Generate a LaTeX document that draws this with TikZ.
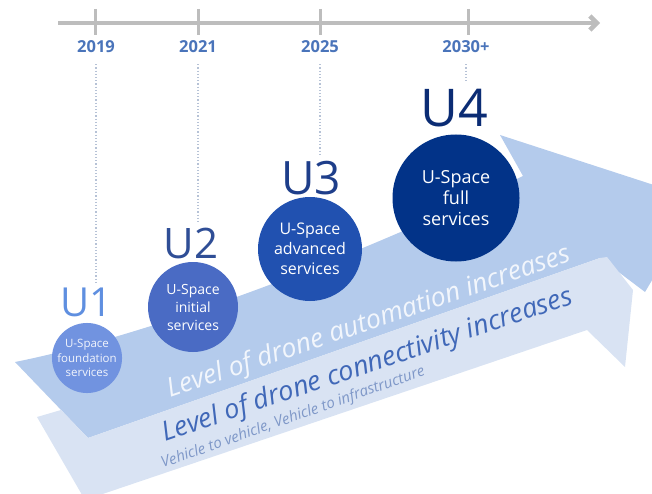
\documentclass[tikz,border=0pt]{standalone}
\usepackage{fontspec}
\setmainfont{Open Sans}
\usetikzlibrary{arrows.meta}
\definecolor{arrA}{HTML}{B4CBEC}
\definecolor{arrB}{HTML}{D9E3F3}
\definecolor{cA}{HTML}{7193E0}
\definecolor{cB}{HTML}{4A6BC4}
\definecolor{cC}{HTML}{2151B0}
\definecolor{cD}{HTML}{023388}
\definecolor{lA}{HTML}{5F8FE0}
\definecolor{lB}{HTML}{2F4E96}
\definecolor{lC}{HTML}{1E3E8A}
\definecolor{lD}{HTML}{0B2C74}
\definecolor{tlc}{HTML}{BDBDBD}
\definecolor{yrc}{HTML}{4A74BA}
\definecolor{dotc}{HTML}{B6C2D6}
\definecolor{autotxt}{HTML}{F2F6FC}
\definecolor{contxt}{HTML}{4068B8}
\definecolor{smalltxt}{HTML}{7F98C8}
\begin{document}
\begin{tikzpicture}[x=1pt,y=-1pt,
  ubub/.style={circle,inner sep=0pt,align=center,text=white},
  ulab/.style={inner sep=0pt},
  year/.style={inner sep=0pt,text=yrc,font=\fontsize{16.5}{17}\selectfont\bfseries},
  vdot/.style={draw=dotc,dotted,line width=1.2pt},
  tick/.style={draw=tlc,line width=3pt},
  slant/.style={inner sep=0pt,anchor=base west}
]
\useasboundingbox (0,0) rectangle (652,494);
\begin{scope}
\clip (0,0) rectangle (652,494);
\fill[arrA] (15,362) .. controls (150,335) and (350,260) .. (523,176)
  -- (500,135) -- (700,200) -- (645,292) -- (600,258) -- (88,438) -- cycle;
\fill[arrB] (37,417) -- (61,410) -- (88,438) -- (600,258) -- (607,257)
  -- (633,290) -- (625,367) -- (587,330) -- (85,500) -- cycle;
\end{scope}

% timeline
\coordinate (tl0) at (58,23);
\coordinate (tl1) at (600,23);
\draw[draw=tlc,line width=4.5pt,-{Straight Barb[length=7pt,width=14pt]}] (tl0) -- (tl1);
\draw[tick] (95,9) -- (95,35);
\draw[tick] (198,9) -- (198,35);
\draw[tick] (320,9) -- (320,35);
\draw[tick] (468,9) -- (468,35);

\node[year] (y19) at (96,47) {2019};
\node[year] (y21) at (198,47) {2021};
\node[year] (y25) at (320,47) {2025};
\node[year] (y30) at (466,47) {2030+};

% bubbles
\node[ubub,minimum size=70pt,fill=cA,text=white!90!cA,font=\fontsize{11.5}{14.5}\selectfont] (b1) at (87,358) {U-Space\\foundation\\services};
\node[ubub,minimum size=90pt,fill=cB,font=\fontsize{14}{18}\selectfont] (b2) at (193,307) {U-Space\\initial\\services};
\node[ubub,minimum size=104pt,fill=cC,font=\fontsize{16}{20}\selectfont] (b3) at (310,249) {U-Space\\advanced\\services};
\node[ubub,minimum size=127pt,fill=cD,font=\fontsize{18}{21}\selectfont] (b4) at (456,198) {U-Space\\full\\services};

% labels
\node[ulab,text=lA,font=\fontsize{40}{40}\selectfont] (u1) at (86,302) {U1};
\node[ulab,text=lB,font=\fontsize{42}{42}\selectfont] (u2) at (191,243) {U2};
\node[ulab,text=lC,font=\fontsize{46}{46}\selectfont] (u3) at (311,178) {U3};
\node[ulab,text=lD,font=\fontsize{52}{52}\selectfont] (u4) at (454,108) {U4};

% dotted connectors
\draw[vdot,shorten <=11pt,shorten >=5pt] (y19.south) -- (y19.south |- u1.north);
\draw[vdot,shorten <=11pt,shorten >=5pt] (y21.south) -- (y21.south |- u2.north);
\draw[vdot,shorten <=11pt,shorten >=6pt] (y25.south) -- (y25.south |- u3.north);
\draw[vdot,shorten <=11pt,shorten >=8pt] (y30.south) -- (y30.south |- u4.north);

% arrow texts
\node[slant,rotate=18.8,text=autotxt,font=\fontsize{26.5}{26.5}\selectfont\itshape] (t1) at (170,398) {Level of drone automation increases};
\node[slant,rotate=18.7,text=contxt,font=\fontsize{27}{27}\selectfont\itshape] (t2) at (165,442) {Level of drone connectivity increases};
\node[slant,rotate=19.5,text=smalltxt,font=\fontsize{15}{15}\selectfont\itshape] (t3) at (163,468) {Vehicle to vehicle, Vehicle to infrastructure};
\end{tikzpicture}
\end{document}
